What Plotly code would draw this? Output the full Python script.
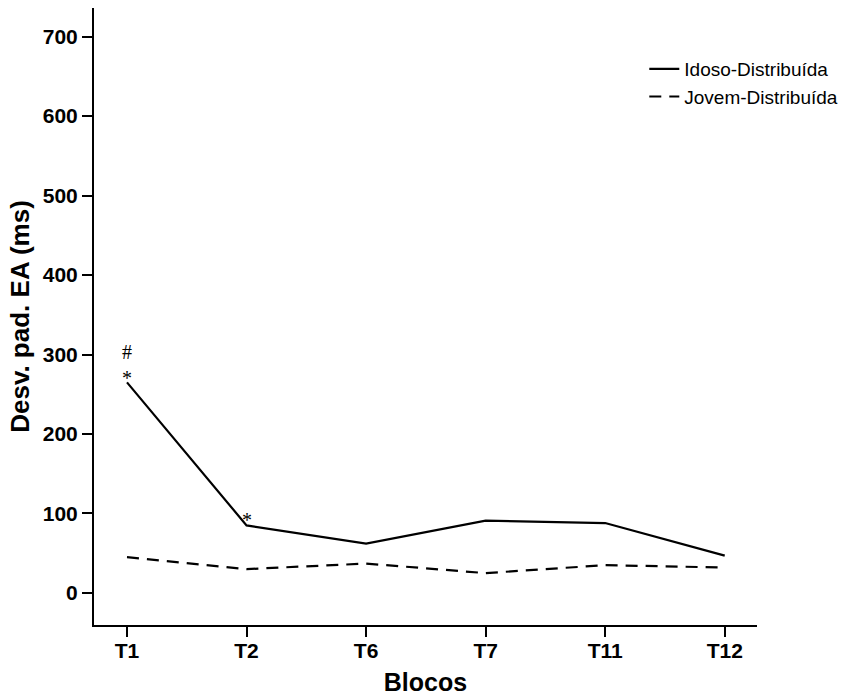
import plotly.graph_objects as go

# Blocks and standard deviation of absolute error (ms) per group
blocos = ["T1", "T2", "T6", "T7", "T11", "T12"]
idoso_distribuida = [265, 85, 62, 91, 88, 47]
jovem_distribuida = [45, 30, 37, 25, 35, 32]

# Significance markers: (block, y position, symbol)
marcadores = [("T1", 270, "*"), ("T1", 303, "#"), ("T2", 92, "*")]

y_ticks = [0, 100, 200, 300, 400, 500, 600, 700]

x_idx = list(range(len(blocos)))
sans = "Liberation Sans, Arial, sans-serif"

fig = go.Figure()
fig.add_trace(go.Scatter(
    x=x_idx, y=idoso_distribuida, mode="lines", name="Idoso-Distribuída",
    line=dict(color="black", width=2.2),
))
fig.add_trace(go.Scatter(
    x=x_idx, y=jovem_distribuida, mode="lines", name="Jovem-Distribuída",
    line=dict(color="black", width=2.2, dash="12px,8px"),
))

for bloco, yv, sym in marcadores:
    fig.add_annotation(
        x=blocos.index(bloco), y=yv, text=sym, showarrow=False,
        font=dict(family="Liberation Serif, Times New Roman, serif", size=20, color="black"),
        xanchor="center", yanchor="middle",
    )

fig.update_layout(
    width=854, height=697,
    margin=dict(l=94, r=97, t=8, b=72, autoexpand=False),
    paper_bgcolor="white", plot_bgcolor="white",
    font=dict(family=sans, color="black"),
    showlegend=True,
    legend=dict(
        x=0.83, y=0.932, xanchor="left", yanchor="top",
        bgcolor="rgba(0,0,0,0)", font=dict(family=sans, size=19, color="black"),
        tracegroupgap=0, itemwidth=30,
    ),
    xaxis=dict(
        range=[-0.276, 5.27], tickmode="array", tickvals=x_idx, ticktext=blocos,
        automargin=False, ticklabelstandoff=-4,
        showgrid=False, zeroline=False, showline=True, linecolor="black", linewidth=2,
        ticks="outside", ticklen=10, tickwidth=1.5, tickcolor="black",
        tickfont=dict(family=sans, size=21, color="black", weight="bold"),
        title=dict(text="<b>Blocos</b>", font=dict(family=sans, size=25, color="black"), standoff=12),
    ),
    yaxis=dict(
        range=[-40.3, 736], tickmode="array", tickvals=y_ticks,
        ticktext=[str(v) for v in y_ticks],
        automargin=False,
        showgrid=False, zeroline=False, showline=True, linecolor="black", linewidth=2,
        ticks="outside", ticklen=10, tickwidth=1.5, tickcolor="black",
        tickfont=dict(family=sans, size=21, color="black", weight="bold"),
        title=dict(text="<b>Desv. pad. EA (ms)</b>", font=dict(family=sans, size=26, color="black"), standoff=6),
    ),
)

fig.write_html("out.html")
